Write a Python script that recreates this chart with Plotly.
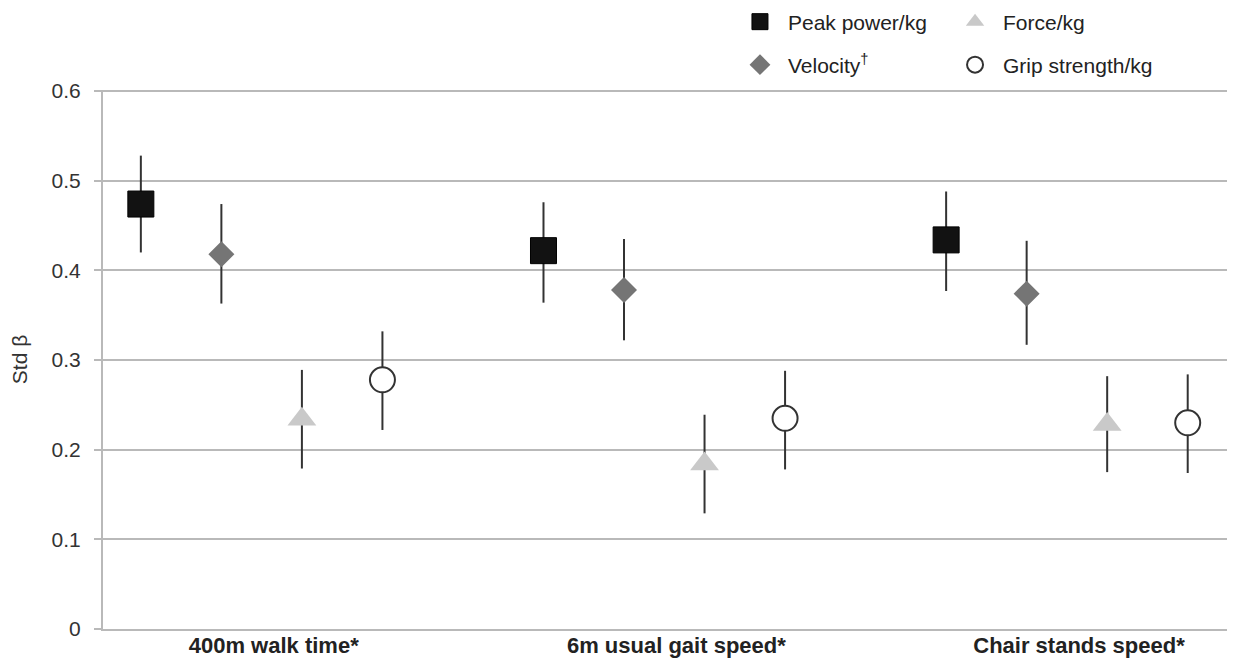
import numpy as np
import plotly.graph_objects as go

# ---- data ----
categories = ["400m walk time*", "6m usual gait speed*", "Chair stands speed*"]
series_names = ["Peak power/kg", "Velocity<sup>\u2020</sup>", "Force/kg", "Grip strength/kg"]

peak_val = [0.474, 0.422, 0.434]
peak_lo = [0.420, 0.364, 0.377]
peak_hi = [0.528, 0.476, 0.488]

vel_val = [0.418, 0.378, 0.374]
vel_lo = [0.363, 0.322, 0.317]
vel_hi = [0.474, 0.435, 0.433]

force_val = [0.234, 0.184, 0.228]
force_lo = [0.179, 0.129, 0.175]
force_hi = [0.289, 0.239, 0.282]

grip_val = [0.278, 0.235, 0.230]
grip_lo = [0.222, 0.178, 0.174]
grip_hi = [0.332, 0.288, 0.284]

y_ticks = [0, 0.1, 0.2, 0.3, 0.4, 0.5, 0.6]

# ---- styling ----
FONT = "Arial, Liberation Sans, sans-serif"
GRID = "#b9b9b9"
styles = [
    dict(symbol="square", size=26, color="#121212", line=dict(color="#000000", width=1)),
    dict(symbol="diamond", size=20, color="#757575", line=dict(width=0)),
    dict(symbol="triangle-up", size=25, color="#c9c9c9", line=dict(width=0)),
    dict(symbol="circle", size=25, color="#ffffff", line=dict(color="#333333", width=2)),
]
legend_ids = ["legend", "legend2", "legend3", "legend4"]

all_series = [
    (peak_val, peak_lo, peak_hi),
    (vel_val, vel_lo, vel_hi),
    (force_val, force_lo, force_hi),
    (grip_val, grip_lo, grip_hi),
]

group_gap = 5  # positions per category (4 series + 1 gap)
fig = go.Figure()
for s, (name, (val, lo, hi)) in enumerate(zip(series_names, all_series)):
    val = np.array(val)
    x = [g * group_gap + s for g in range(len(categories))]
    fig.add_trace(go.Scatter(
        x=x, y=val, mode="markers", name=name,
        marker=styles[s],
        error_y=dict(type="data", symmetric=False,
                     array=np.array(hi) - val, arrayminus=val - np.array(lo),
                     color="#333333", thickness=2, width=0),
        legend=legend_ids[s],
        showlegend=True,
    ))

tickpos = [g * group_gap + 1.65 for g in range(len(categories))]

leg_common = dict(font=dict(family=FONT, size=21, color="#222222"),
                  bgcolor="rgba(0,0,0,0)", xanchor="left", yanchor="middle",
                  xref="paper", yref="container", itemwidth=46)

fig.update_layout(
    width=1235, height=658,
    margin=dict(l=95, r=11, t=82, b=37),
    paper_bgcolor="white", plot_bgcolor="white",
    font=dict(family=FONT, color="#333333"),
    xaxis=dict(range=[-0.47, 13.55], tickvals=tickpos, ticktext=categories,
               tickfont=dict(family=FONT, size=22, color="#222222", weight="bold"),
               showgrid=False, zeroline=False, showline=True, linecolor=GRID,
               linewidth=2, ticks="", ticklabelstandoff=-4, automargin=False),
    yaxis=dict(range=[0, 0.6012], tickvals=y_ticks, ticktext=[str(t) for t in y_ticks],
               tickfont=dict(family=FONT, size=21, color="#333333"),
               showgrid=True, gridcolor=GRID, gridwidth=1.5, zeroline=False,
               showline=True, linecolor=GRID, linewidth=2,
               ticks="outside", ticklen=7, tickcolor=GRID, tickwidth=1.5,
               ticklabelstandoff=9,
               title=dict(text="Std \u03b2", font=dict(family=FONT, size=21, color="#333333"),
                          standoff=18),
               automargin=False),
    legend=dict(x=0.5571, y=0.9787, **leg_common),
    legend2=dict(x=0.5571, y=0.9134, **leg_common),
    legend3=dict(x=0.7476, y=0.9787, **leg_common),
    legend4=dict(x=0.7476, y=0.9134, **leg_common),
)

fig.write_html("out.html")
